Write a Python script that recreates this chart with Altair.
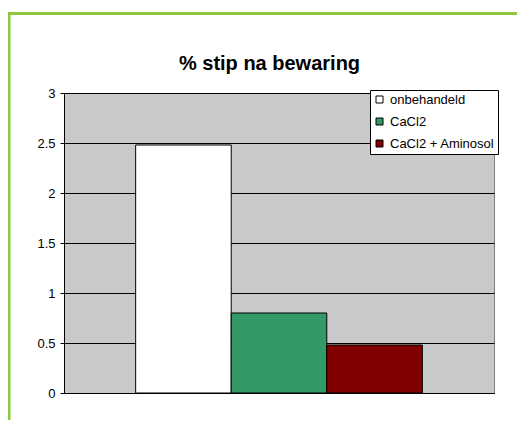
import altair as alt
import pandas as pd

series = ["onbehandeld", "CaCl2", "CaCl2 + Aminosol"]
values = [2.48, 0.80, 0.48]
colors = ["#FFFFFF", "#339966", "#800000"]
y_ticks = [0, 0.5, 1, 1.5, 2, 2.5, 3]
title_text = ["% stip na bewaring"]

df = pd.DataFrame({"serie": series, "waarde": values})
tdf = pd.DataFrame({"t": title_text})

FONT = "Liberation Sans"
W, H = 430, 300

bars = alt.Chart(df).mark_bar(stroke="black", strokeWidth=1).encode(
    x=alt.X("serie:N", sort=series,
            scale=alt.Scale(paddingInner=0, paddingOuter=0.75),
            axis=alt.Axis(title=None, labels=False, ticks=False,
                          domainColor="black", domainWidth=1, grid=False)),
    y=alt.Y("waarde:Q", scale=alt.Scale(domain=[0, 3], nice=False),
            axis=alt.Axis(title=None, values=y_ticks, format="~g",
                          grid=True, gridColor="black", gridWidth=1, gridOpacity=1,
                          domainColor="black", tickColor="black", tickSize=4,
                          labelFont=FONT, labelFontSize=13, labelColor="black",
                          labelPadding=5)),
    color=alt.Color("serie:N", sort=series,
                    scale=alt.Scale(domain=series, range=colors),
                    legend=alt.Legend(title=None, orient="none",
                                      legendX=306, legendY=-3,
                                      fillColor="white", strokeColor="black",
                                      padding=3, symbolType="square",
                                      symbolSize=49, symbolStrokeColor="black",
                                      symbolStrokeWidth=1, labelFont=FONT,
                                      labelFontSize=13, labelColor="black",
                                      labelOffset=4, rowPadding=8)),
)

title = alt.Chart(tdf).mark_text(font=FONT, fontSize=20, fontWeight="bold",
                                 color="black", align="center",
                                 baseline="alphabetic").encode(
    text="t:N", x=alt.value(205.5), y=alt.value(-23)
)

border_top = alt.Chart(tdf).mark_rule(color="#8DC641", strokeWidth=3).encode(
    x=alt.value(-57), x2=alt.value(470), y=alt.value(-79.5)
)
border_left = alt.Chart(tdf).mark_rule(color="#8DC641", strokeWidth=3).encode(
    x=alt.value(-55), y=alt.value(-81), y2=alt.value(340)
)

chart = alt.layer(border_top, border_left, bars, title).properties(
    width=W, height=H,
    autosize=alt.AutoSizeParams(type="none"),
    padding={"left": 56, "top": 85, "right": 23, "bottom": 27},
).configure(
    background="white"
).configure_view(
    fill="#C9C9CB", stroke="#808080", strokeWidth=1
)

chart.save("out.html", embed_options={"renderer": "svg", "actions": False})
